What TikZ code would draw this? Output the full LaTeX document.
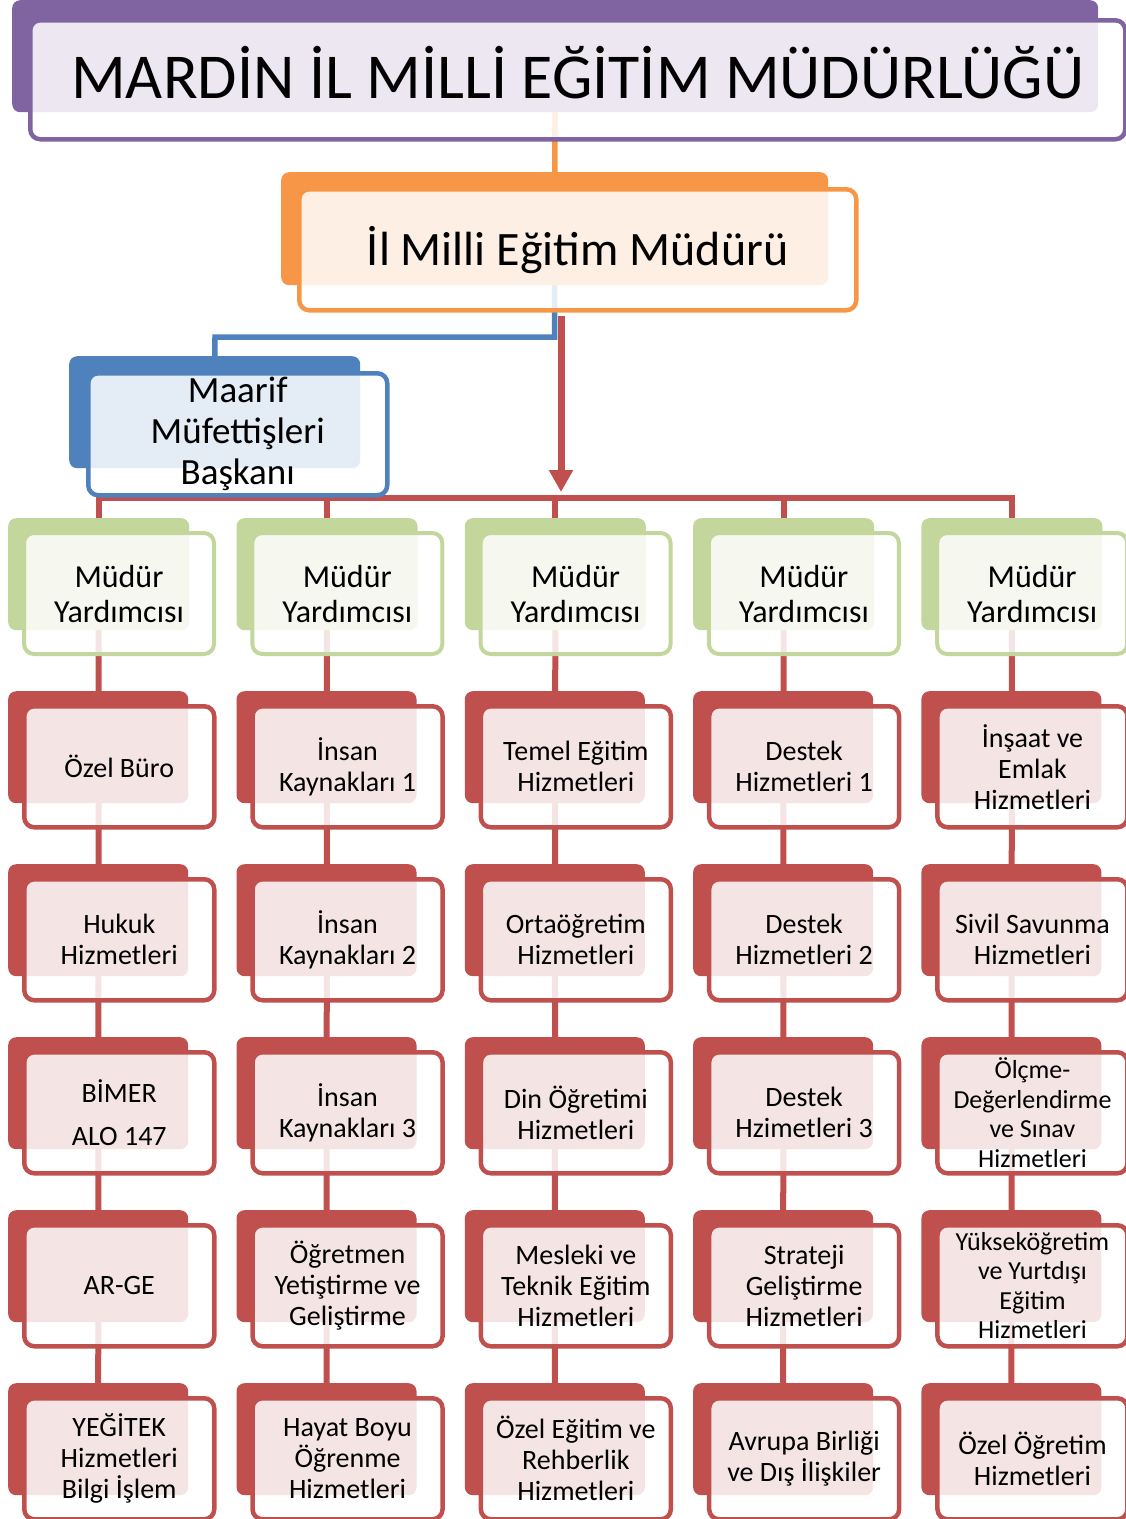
\documentclass[tikz,border=0pt]{standalone}
\usepackage{fontspec}
\setmainfont{Carlito}
\usetikzlibrary{arrows.meta,backgrounds}
\definecolor{mebpurple}{HTML}{8064A2}
\definecolor{meborange}{HTML}{F79646}
\definecolor{mebblue}{HTML}{4F81BD}
\definecolor{mebred}{HTML}{C0504D}
\definecolor{mebgreen}{HTML}{C3D69B}
\begin{document}
\begin{tikzpicture}[
  x=1pt, y=-1pt,
  back/.style={
    fill=#1, rounded corners=8pt, inner sep=0pt, anchor=north west
  },
  front/.style={
    draw=#1, line width=4.5pt, fill=white, fill opacity=0.85, text opacity=1,
    rounded corners=10pt, inner sep=0pt, anchor=north west, align=center
  },
  link/.style={draw=#1, line width=5.5pt},
  titletext/.style={font=\fontsize{64}{70}\selectfont},
  headtext/.style={font=\fontsize{48}{53}\selectfont},
  bluetext/.style={font=\fontsize{37}{41}\selectfont},
  greentext/.style={font=\fontsize{32}{35}\selectfont},
  redtext/.style={font=\fontsize{28}{31}\selectfont},
  smalltext/.style={font=\fontsize{26}{29.5}\selectfont},
]
\useasboundingbox (0,0) rectangle (1126,1519);

% Title
\node[back=mebpurple, minimum width=1086, minimum height=112] (titleb) at (12,0) {};
\node[front=mebpurple, titletext, minimum width=1095, minimum height=119] (title) at (28,18)
  {\raisebox{14pt}{MARDİN İL MİLLİ EĞİTİM MÜDÜRLÜĞÜ}};

% Il Milli Egitim Muduru
\node[back=meborange, minimum width=547, minimum height=113] (mudb) at (281,172) {};
\node[front=meborange, headtext, minimum width=557, minimum height=121] (mud) at (297,187)
  {İl Milli Eğitim Müdürü};

% Maarif Mufettisleri Baskani
\node[back=mebblue, minimum width=291, minimum height=112] (maarifb) at (69,356) {};
\node[front=mebblue, bluetext, minimum width=299, minimum height=122] (maarif) at (86,371)
  {Maarif\\Müfettişleri\\Başkanı};

% Mudur Yardimcilari
\foreach \c [count=\i from 0] in {a,b,c,d,e} {
  \node[back=mebgreen, minimum width=181, minimum height=112] (\c0b) at (8+228.3*\i,518) {};
  \node[front=mebgreen, line width=4pt, greentext, minimum width=190, minimum height=121]
    (\c0) at (22+228.3*\i,531) {Müdür\\Yardımcısı};
}

% Column a
\foreach \txt [count=\r] in {{Özel Büro},{Hukuk\\Hizmetleri},{BİMER\\[12pt]ALO 147},
    {AR-GE},{YEĞİTEK\\Hizmetleri\\Bilgi İşlem}} {
  \node[back=mebred, minimum width=180, minimum height=112] (a\r b) at (8,518+173*\r) {};
  \node[front=mebred, redtext, minimum width=190, minimum height=121] (a\r) at (22,531+173*\r) {\txt};
}

% Column b
\foreach \txt [count=\r] in {{İnsan\\Kaynakları 1},{İnsan\\Kaynakları 2},{İnsan\\Kaynakları 3},
    {Öğretmen\\Yetiştirme ve\\Geliştirme},{Hayat Boyu\\Öğrenme\\Hizmetleri}} {
  \node[back=mebred, minimum width=180, minimum height=112] (b\r b) at (236.3,518+173*\r) {};
  \node[front=mebred, redtext, minimum width=190, minimum height=121] (b\r) at (250.3,531+173*\r) {\txt};
}

% Column c
\foreach \txt [count=\r] in {{Temel Eğitim\\Hizmetleri},{Ortaöğretim\\Hizmetleri},{Din Öğretimi\\Hizmetleri},
    {Mesleki ve\\Teknik Eğitim\\Hizmetleri},{Özel Eğitim ve\\Rehberlik\\Hizmetleri}} {
  \node[back=mebred, minimum width=180, minimum height=112] (c\r b) at (464.6,518+173*\r) {};
  \node[front=mebred, redtext, minimum width=190, minimum height=121] (c\r) at (478.6,531+173*\r) {\txt};
}

% Column d
\foreach \txt [count=\r] in {{Destek\\Hizmetleri 1},{Destek\\Hizmetleri 2},{Destek\\Hzimetleri 3},
    {Strateji\\Geliştirme\\Hizmetleri},{Avrupa Birliği\\ve Dış İlişkiler}} {
  \node[back=mebred, minimum width=180, minimum height=112] (d\r b) at (692.9,518+173*\r) {};
  \node[front=mebred, redtext, minimum width=190, minimum height=121] (d\r) at (706.9,531+173*\r) {\txt};
}

% Column e
\node[back=mebred, minimum width=180, minimum height=112] (e1b) at (921.2,691) {};
\node[front=mebred, redtext, minimum width=190, minimum height=121] (e1) at (935.2,704)
  {İnşaat ve\\Emlak\\Hizmetleri};
\node[back=mebred, minimum width=180, minimum height=112] (e2b) at (921.2,864) {};
\node[front=mebred, redtext, minimum width=190, minimum height=121] (e2) at (935.2,877)
  {Sivil Savunma\\Hizmetleri};
\node[back=mebred, minimum width=180, minimum height=112] (e3b) at (921.2,1037) {};
\node[front=mebred, smalltext, minimum width=190, minimum height=121] (e3) at (935.2,1050)
  {Ölçme-\\Değerlendirme\\ve Sınav\\Hizmetleri};
\node[back=mebred, minimum width=180, minimum height=112] (e4b) at (921.2,1210) {};
\node[front=mebred, smalltext, minimum width=190, minimum height=121] (e4) at (935.2,1223)
  {Yükseköğretim\\ve Yurtdışı\\Eğitim\\Hizmetleri};
\node[back=mebred, minimum width=180, minimum height=112] (e5b) at (921.2,1383) {};
\node[front=mebred, redtext, minimum width=190, minimum height=121] (e5) at (935.2,1396)
  {Özel Öğretim\\Hizmetleri};

% Connectors, behind the boxes
\coordinate (bus) at (555,498);
\coordinate (bluebend) at (215,337);
\coordinate (arrtop) at (561,316);
\coordinate (arrtip) at (561,492);
\begin{pgfonlayer}{background}
  \draw[link=meborange] (titleb.center) -- (mudb.center);
  \draw[link=mebblue] (mudb.center) |- (bluebend) -- (maarifb.center);
  \draw[link=mebred, line width=6pt] (a0b.center) -- (a0b.center |- bus) -- (e0b.center |- bus) -- (e0b.center);
  \foreach \c in {b,c,d}
    \draw[link=mebred, line width=6pt] (\c0b.center |- bus) -- (\c0b.center);
  \foreach \c in {a,b,c,d,e}
    \draw[link=mebred, line width=6pt] (\c0b.center) -- (\c5b.center);
\end{pgfonlayer}
\draw[link=mebred, line width=7pt, -{Triangle[length=22pt,width=23pt]}] (arrtop) -- (arrtip);

\end{tikzpicture}
\end{document}
